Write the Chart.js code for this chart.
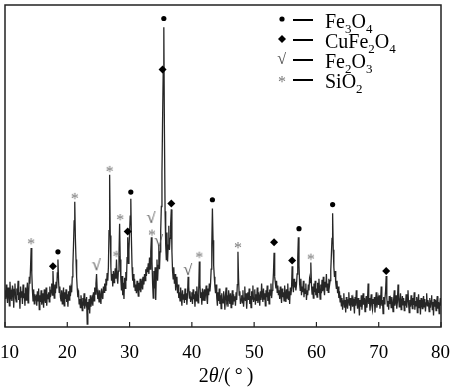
<!DOCTYPE html>
<html>
<head>
<meta charset="utf-8">
<script src="https://cdn.jsdelivr.net/npm/chart.js"></script>
<style>
  html, body { margin: 0; padding: 0; background: #fff; }
  #wrap { width: 450px; height: 387px; }
</style>
</head>
<body>
<div id="wrap"><canvas id="xrdChart" width="450" height="387"></canvas></div>
<script>
  // XRD pattern, 2theta from 10 to 80 in 0.1 deg steps (one row = one degree)
  var twoThetaStart = 10;
  var twoThetaStep = 0.1;
  var intensity = [
    38,29,44,33,25,41,36,22,47,31,   // 10
    35,27,43,38,20,39,45,30,26,40,   // 11
    33,48,28,36,19,42,31,37,24,44,   // 12
    30,35,22,41,28,37,46,25,33,52,   // 13
    45,62,82,56,38,27,39,24,34,29,   // 14
    31,22,37,27,40,18,33,26,38,23,   // 15
    35,28,20,39,30,25,41,22,34,29,   // 16
    36,26,42,31,38,45,33,58,40,30,   // 17
    44,35,47,40,56,70,48,36,42,31,   // 18
    27,38,24,33,41,22,36,29,39,26,   // 19
    34,21,37,28,43,32,40,36,52,64,   // 20
    85,110,130,92,70,52,40,31,38,24, // 21
    29,20,33,25,17,30,22,35,19,27,   // 22
    24,31,3,26,18,29,14,33,21,27,    // 23
    30,22,36,27,41,34,45,55,38,29,   // 24
    34,26,38,31,24,40,33,29,42,36,   // 25
    45,38,50,43,56,48,62,100,158,95, // 26
    62,48,55,42,58,46,52,61,50,70,   // 27
    52,45,58,74,107,70,49,38,53,33,  // 28
    46,29,51,40,57,48,72,93,66,80,   // 29
    98,115,133,90,62,48,55,41,50,38, // 30
    44,35,48,40,32,46,38,50,36,43,   // 31
    47,39,52,44,55,48,60,53,62,57,   // 32
    66,55,72,60,78,93,68,45,30,58,   // 33
    40,62,28,55,70,48,64,85,60,78,   // 34
    100,125,160,215,265,311,200,120,85,70, // 35
    98,68,85,105,80,92,108,122,78,58, // 36
    50,62,45,55,38,47,52,35,44,30,   // 37
    36,27,41,31,22,38,29,34,25,40,   // 38
    28,35,23,33,52,42,30,37,26,31,   // 39
    36,24,39,29,34,21,37,27,42,32,   // 40
    25,38,68,44,30,36,23,40,28,34,   // 41
    39,27,35,43,31,24,40,33,45,37,   // 42
    45,60,85,123,90,64,52,42,35,44,  // 43
    30,22,36,27,40,24,33,19,35,28,   // 44
    25,37,30,18,33,41,26,29,21,38,   // 45
    31,24,35,20,29,38,23,34,27,32,   // 46
    22,36,28,44,78,50,33,37,24,29,   // 47
    33,25,38,21,30,42,27,35,19,31,   // 48
    36,28,40,24,32,20,37,29,43,26,   // 49
    30,39,23,34,27,41,25,36,31,22,   // 50
    37,28,45,33,26,40,29,35,22,38,   // 51
    31,43,27,36,24,39,33,45,30,38,   // 52
    44,56,77,52,46,40,48,36,43,33,   // 53
    38,29,42,33,25,40,31,36,27,43,   // 54
    34,26,39,30,45,28,37,24,41,33,   // 55
    40,63,45,36,50,41,47,38,44,55,   // 56
    72,93,64,45,38,50,33,42,36,48,   // 57
    31,40,35,45,28,38,33,44,38,50,   // 58
    46,67,44,34,42,30,45,36,48,33,   // 59
    40,31,46,36,50,38,29,44,35,49,   // 60
    37,52,40,33,47,41,55,38,45,36,   // 61
    50,43,48,58,75,92,118,80,62,52,  // 62
    58,46,40,48,35,42,30,37,26,33,   // 63
    22,30,18,27,35,20,28,15,31,24,   // 64
    19,28,36,22,30,17,26,33,21,29,   // 65
    25,14,31,22,38,27,19,30,24,12,   // 66
    28,21,33,18,26,35,23,30,16,27,   // 67
    32,20,28,45,24,30,17,26,34,22,   // 68
    18,29,24,31,15,27,36,20,25,30,   // 69
    23,33,19,26,42,22,28,14,31,24,   // 70
    29,37,53,30,21,27,18,32,24,28,   // 71
    20,31,25,16,29,38,22,27,33,19,   // 72
    26,44,30,21,28,35,18,25,32,23,   // 73
    30,17,27,22,34,20,29,38,24,15,   // 74
    28,21,33,25,19,30,23,36,18,27,   // 75
    22,31,15,26,34,20,28,13,30,24,   // 76
    19,27,32,21,29,16,25,35,22,28,   // 77
    24,16,30,20,27,33,18,26,12,29,   // 78
    21,28,17,25,32,19,26,14,23,30,   // 79
    22                               // 80
  ];

  var xTicks = [10, 20, 30, 40, 50, 60, 70, 80];

  // phase markers (2theta, height of the marker)
  var fe3o4X = [18.5, 30.2, 35.5, 43.3, 57.2, 62.6];
  var fe3o4Y = [78, 140, 320, 132, 102, 127];
  var cufe2o4X = [17.7, 29.7, 35.3, 36.7, 53.2, 56.1, 71.2];
  var cufe2o4Y = [63, 99, 267, 128, 88, 69, 58];
  var fe2o3X = [24.7, 33.5, 34.7, 39.4];
  var fe2o3Y = [63, 112, 88, 58];
  var sio2X = [14.2, 21.2, 26.8, 27.9, 28.5, 33.6, 41.2, 47.4, 59.1];
  var sio2Y = [88, 135, 163, 75, 113, 97, 74, 84, 72];

  var phaseNames = ['Fe3O4', 'CuFe2O4', 'Fe2O3', 'SiO2'];

  var serif = '"Liberation Serif", "Times New Roman", serif';

  function glyphCanvas(ch, fontSize, w, h, dy, color) {
    var c = document.createElement('canvas');
    c.width = w;
    c.height = h;
    var g = c.getContext('2d');
    g.fillStyle = color;
    g.font = fontSize + 'px ' + serif;
    g.textAlign = 'center';
    g.textBaseline = 'middle';
    g.fillText(ch, w / 2, h / 2 + dy);
    return c;
  }
  var checkGlyph = glyphCanvas('\u221A', 17, 12, 16, 0, '#555');
  var starGlyph = glyphCanvas('*', 16, 10, 10, 3, '#777');

  function pairs(xs, ys) {
    var out = [];
    for (var i = 0; i < xs.length; i++) out.push({ x: xs[i], y: ys[i] });
    return out;
  }

  var linePts = [];
  for (var i = 0; i < intensity.length; i++) {
    linePts.push({ x: +(twoThetaStart + i * twoThetaStep).toFixed(1), y: intensity[i] });
  }

  // formula with digits as subscripts
  function drawFormula(ctx, text, x, y, size) {
    var subSize = Math.round(size * 0.65);
    ctx.textAlign = 'left';
    ctx.textBaseline = 'alphabetic';
    for (var i = 0; i < text.length; i++) {
      var ch = text[i];
      if (ch >= '0' && ch <= '9') {
        ctx.font = subSize + 'px ' + serif;
        ctx.fillText(ch, x, y + 5);
      } else {
        ctx.font = size + 'px ' + serif;
        ctx.fillText(ch, x, y);
      }
      x += ctx.measureText(ch).width;
    }
  }

  var decor = {
    id: 'decor',
    afterDraw: function(chart) {
      var ctx = chart.ctx;
      var a = chart.chartArea;
      var xs = chart.scales.x;
      ctx.save();

      // frame
      ctx.strokeStyle = '#222';
      ctx.lineWidth = 1.5;
      ctx.strokeRect(a.left, a.top, a.right - a.left, a.bottom - a.top);

      // inward ticks + labels
      ctx.lineWidth = 1.2;
      ctx.fillStyle = '#000';
      ctx.font = '19px ' + serif;
      ctx.textBaseline = 'alphabetic';
      for (var i = 0; i < xTicks.length; i++) {
        var px = xs.getPixelForValue(xTicks[i]);
        ctx.beginPath();
        ctx.moveTo(px, a.bottom);
        ctx.lineTo(px, a.bottom - 5);
        ctx.stroke();
        var label = String(xTicks[i]);
        var w = ctx.measureText(label).width;
        var lx = Math.max(0, Math.min(chart.width - w, px - w / 2));
        ctx.textAlign = 'left';
        ctx.fillText(label, lx, 358);
      }

      // axis title 2θ/(°)
      var parts = [['2', ''], ['\u03B8', 'italic '], ['/(\u2009\u00B0\u2009)', '']];
      var total = 0;
      for (var j = 0; j < parts.length; j++) {
        ctx.font = parts[j][1] + '20px ' + serif;
        total += ctx.measureText(parts[j][0]).width;
      }
      var tx = 226 - total / 2;
      ctx.textAlign = 'left';
      for (var j = 0; j < parts.length; j++) {
        ctx.font = parts[j][1] + '20px ' + serif;
        ctx.fillText(parts[j][0], tx, 382);
        tx += ctx.measureText(parts[j][0]).width;
      }

      // legend
      var rows = [20, 40, 60, 80];
      for (var k = 0; k < phaseNames.length; k++) {
        var ry = rows[k];
        ctx.fillStyle = '#000';
        if (k === 0) {
          ctx.beginPath();
          ctx.arc(282, ry - 1, 2.6, 0, Math.PI * 2);
          ctx.fill();
        } else if (k === 1) {
          ctx.beginPath();
          ctx.moveTo(282, ry - 5);
          ctx.lineTo(286, ry - 1);
          ctx.lineTo(282, ry + 3);
          ctx.lineTo(278, ry - 1);
          ctx.closePath();
          ctx.fill();
        } else if (k === 2) {
          ctx.drawImage(checkGlyph, 276, ry - 8);
        } else {
          ctx.drawImage(starGlyph, 277, ry - 5);
        }
        ctx.strokeStyle = '#000';
        ctx.lineWidth = 2;
        ctx.beginPath();
        ctx.moveTo(293, ry);
        ctx.lineTo(313, ry);
        ctx.stroke();
        ctx.fillStyle = '#000';
        drawFormula(ctx, phaseNames[k], 325, ry + 8, 20);
      }
      ctx.restore();
    }
  };

  var ctx = document.getElementById('xrdChart').getContext('2d');
  var xrdChart = new Chart(ctx, {
    type: 'line',
    data: {
      datasets: [{
        label: 'XRD',
        data: linePts,
        borderColor: 'rgba(0, 0, 0, 0.85)',
        borderWidth: 1.3,
        pointRadius: 0,
        tension: 0,
        order: 10
      }, {
        type: 'scatter',
        label: 'Fe3O4',
        data: pairs(fe3o4X, fe3o4Y),
        pointStyle: 'circle',
        pointRadius: 2.6,
        backgroundColor: '#000',
        borderWidth: 0,
        order: 0
      }, {
        type: 'scatter',
        label: 'CuFe2O4',
        data: pairs(cufe2o4X, cufe2o4Y),
        pointStyle: 'rectRot',
        pointRadius: 4,
        backgroundColor: '#000',
        borderWidth: 0,
        order: 0
      }, {
        type: 'scatter',
        label: 'Fe2O3',
        data: pairs(fe2o3X, fe2o3Y),
        pointStyle: checkGlyph,
        order: 0
      }, {
        type: 'scatter',
        label: 'SiO2',
        data: pairs(sio2X, sio2Y),
        pointStyle: starGlyph,
        order: 0
      }]
    },
    options: {
      responsive: false,
      animation: false,
      devicePixelRatio: 1,
      layout: { padding: { left: 4, right: 9, top: 1, bottom: 52 } },
      plugins: { legend: { display: false }, tooltip: { enabled: false } },
      scales: {
        x: {
          type: 'linear',
          min: 10,
          max: 80,
          ticks: { display: false, stepSize: 10 },
          grid: { display: false },
          border: { display: false }
        },
        y: {
          display: false,
          min: 0,
          max: 334
        }
      }
    },
    plugins: [decor]
  });
</script>
</body>
</html>
